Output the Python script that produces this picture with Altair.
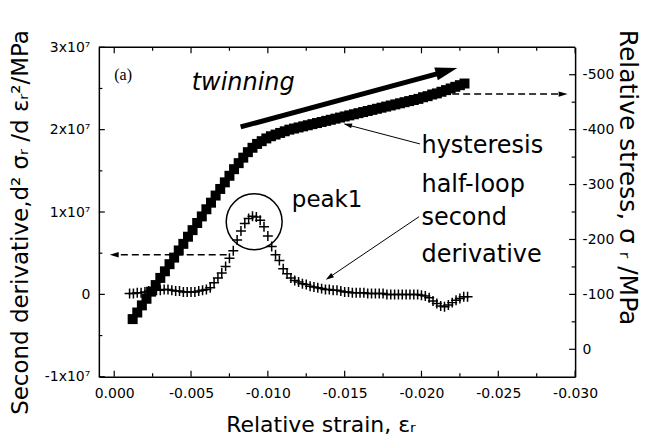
import altair as alt
import pandas as pd

# ---------------- data ----------------
# second derivative (left axis, units of 1e7 MPa)
deriv_strain = [-0.00100, -0.00125, -0.00150, -0.00175, -0.00200, -0.00225, -0.00250, -0.00275, -0.00300, -0.00325,
                -0.00350, -0.00375, -0.00400, -0.00425, -0.00450, -0.00475, -0.00500, -0.00525, -0.00550, -0.00575,
                -0.00600, -0.00625, -0.00650, -0.00675, -0.00700, -0.00725, -0.00750, -0.00775, -0.00800, -0.00825,
                -0.00850, -0.00875, -0.00900, -0.00925, -0.00950, -0.00975, -0.01000, -0.01025, -0.01050, -0.01075,
                -0.01100, -0.01125, -0.01150, -0.01175, -0.01200, -0.01225, -0.01250, -0.01275, -0.01300, -0.01325,
                -0.01350, -0.01375, -0.01400, -0.01425, -0.01450, -0.01475, -0.01500, -0.01525, -0.01550, -0.01575,
                -0.01600, -0.01625, -0.01650, -0.01675, -0.01700, -0.01725, -0.01750, -0.01775, -0.01800, -0.01825,
                -0.01850, -0.01875, -0.01900, -0.01925, -0.01950, -0.01975, -0.02000, -0.02025, -0.02050, -0.02075,
                -0.02100, -0.02125, -0.02150, -0.02175, -0.02200, -0.02225, -0.02250, -0.02275, -0.02300]
deriv_value = [0.01, 0.01, 0.02, 0.02, 0.03, 0.04, 0.05, 0.05, 0.05, 0.06,
               0.06, 0.05, 0.04, 0.04, 0.03, 0.03, 0.03, 0.03, 0.04, 0.05,
               0.06, 0.08, 0.14, 0.20, 0.26, 0.34, 0.44, 0.53, 0.66, 0.77,
               0.86, 0.92, 0.95, 0.94, 0.90, 0.82, 0.71, 0.58, 0.48, 0.41,
               0.31, 0.25, 0.20, 0.17, 0.15, 0.13, 0.12, 0.10, 0.09, 0.08,
               0.07, 0.06, 0.06, 0.05, 0.05, 0.04, 0.03, 0.03, 0.02, 0.02,
               0.02, 0.02, 0.01, 0.01, 0.01, 0.01, 0.01, 0.00, 0.00, 0.00,
               0.00, 0.00, 0.00, 0.00, 0.00, 0.00, -0.01, -0.02, -0.04, -0.08,
               -0.11, -0.14, -0.15, -0.13, -0.10, -0.07, -0.05, -0.03, -0.03]

# hysteresis half-loop (right axis, MPa)
hyst_strain = [-0.0012, -0.0015, -0.0018, -0.0021, -0.0024, -0.0027, -0.0030, -0.0033, -0.0036, -0.0039,
               -0.0042, -0.0045, -0.0048, -0.0051, -0.0054, -0.0057, -0.0060, -0.0063, -0.0066, -0.0069,
               -0.0072, -0.0075, -0.0078, -0.0081, -0.0084, -0.0087, -0.0090, -0.0093, -0.0096, -0.0099,
               -0.0102, -0.0105, -0.0108, -0.0111, -0.0114, -0.0117, -0.0120, -0.0123, -0.0126, -0.0129,
               -0.0132, -0.0135, -0.0138, -0.0141, -0.0144, -0.0147, -0.0150, -0.0153, -0.0156, -0.0159,
               -0.0162, -0.0165, -0.0168, -0.0171, -0.0174, -0.0177, -0.0180, -0.0183, -0.0186, -0.0189,
               -0.0192, -0.0195, -0.0198, -0.0201, -0.0204, -0.0207, -0.0210, -0.0213, -0.0216, -0.0219,
               -0.0222, -0.0225, -0.0228]
hyst_stress = [-55, -67, -80, -92, -105, -117, -130, -142, -155, -167,
               -180, -192, -205, -217, -230, -242, -255, -267, -280, -292,
               -304, -316, -328, -339, -349, -359, -367, -374, -379, -384,
               -388, -391, -394, -397, -400, -402, -404, -406, -408, -410,
               -412, -414, -416, -418, -420, -422, -424, -426, -428, -430,
               -432, -434, -436, -438, -440, -442, -444, -446, -448, -450,
               -452, -454, -456, -459, -461, -464, -466, -469, -472, -475,
               -478, -481, -484]

# ticks
x_major = [0.0, -0.005, -0.010, -0.015, -0.020, -0.025, -0.030]
x_minor = [-0.0025, -0.0075, -0.0125, -0.0175, -0.0225, -0.0275]
left_major = [-1, 0, 1, 2, 3]
left_minor = [-0.5, 0.5, 1.5, 2.5]
right_major = [0, -100, -200, -300, -400, -500]
right_minor = [-50, -150, -250, -350, -450]

# annotations (data coordinates)
label_lines = ["hysteresis", "half-loop", "second", "derivative"]
label_strain = [-0.0200, -0.0200, -0.0200, -0.0200]
label_stress = [-358, -286, -226, -159]

W, H = 477, 330
FONT = "DejaVu Sans"

xs = alt.Scale(domain=[-0.030, 0.001], reverse=True, nice=False, zero=False)
ysl = alt.Scale(domain=[-1, 3], nice=False, zero=False)
ysr = alt.Scale(domain=[-550, 50], reverse=True, nice=False, zero=False)

ARROW = "M0,-1L-0.6,1L0.6,1Z"
CROSS = "M-1,0L1,0M0,-1L0,1"

common = dict(ticks=False, grid=False, domain=True, domainColor="black", domainWidth=1.5,
              labelFont=FONT, labelFontSize=14, labelColor="black", labelOverlap=False, labelFlush=False,
              titleFont=FONT, titleFontWeight="normal", titleColor="black")

x_axis = alt.Axis(values=x_major, labelExpr="replace(format(datum.value, '.3f'), '\u2212', '-')",
                  labelPadding=10, title="Relative strain, \u03b5\u1d63", titleFontSize=22,
                  titleX=222, titleY=55, titleBaseline="alphabetic", titleAlign="center", **common)
left_axis = alt.Axis(values=left_major, labelExpr="datum.value == 0 ? '0' : datum.value + 'x10\u2077'",
                     labelPadding=9,
                     title="Second derivative,d\u00b2 \u03c3\u1d63 /d \u03b5\u1d63\u00b2/MPa",
                     titleFontSize=23, titleX=-78, titleY=175, titleAngle=270, titleAlign="center",
                     titleBaseline="middle", **common)
right_axis = alt.Axis(orient="right", values=right_major, labelExpr="'' + datum.value",
                      labelPadding=7, title="Relative stress, \u03c3 \u1d63    /MPa", titleFontSize=25,
                      titleX=52, titleY=130, titleAngle=90, titleAlign="center", titleBaseline="middle",
                      **common)

# helper channels for annotation layers (they share the scales; axes come from the main layers)
Xn = lambda f: alt.X(f, type="quantitative", scale=xs)
YL = lambda f: alt.Y(f, type="quantitative", scale=ysl)
YR = lambda f: alt.Y(f, type="quantitative", scale=ysr)

df_d = pd.DataFrame({"strain": deriv_strain, "v": deriv_value})
df_h = pd.DataFrame({"strain": hyst_strain, "s": hyst_stress})

# ---------- left-axis group ----------
crosses = alt.Chart(df_d).mark_point(shape=CROSS, filled=False, stroke="black", strokeWidth=1.5,
                                     size=100, opacity=1).encode(
    x=alt.X("strain:Q", scale=xs, axis=x_axis),
    y=alt.Y("v:Q", scale=ysl, axis=left_axis))

top_border = alt.Chart(pd.DataFrame({"k": [0]})).mark_rule(color="black", strokeWidth=1.5).encode(
    x=alt.value(0), x2=alt.value(W), y=alt.value(0))

xt_major = pd.DataFrame({"strain": x_major})
xt_minor = pd.DataFrame({"strain": x_minor})
tick_b_maj = alt.Chart(xt_major).mark_rule(color="black", strokeWidth=1.2).encode(
    x=Xn("strain"), y=alt.value(H), y2=alt.value(H - 6))
tick_t_maj = alt.Chart(xt_major).mark_rule(color="black", strokeWidth=1.2).encode(
    x=Xn("strain"), y=alt.value(0), y2=alt.value(6))
tick_b_min = alt.Chart(xt_minor).mark_rule(color="black", strokeWidth=1.2).encode(
    x=Xn("strain"), y=alt.value(H), y2=alt.value(H - 3.5))
tick_t_min = alt.Chart(xt_minor).mark_rule(color="black", strokeWidth=1.2).encode(
    x=Xn("strain"), y=alt.value(0), y2=alt.value(3.5))
tick_l_maj = alt.Chart(pd.DataFrame({"v": left_major})).mark_rule(color="black", strokeWidth=1.2).encode(
    y=YL("v"), x=alt.value(0), x2=alt.value(6))
tick_l_min = alt.Chart(pd.DataFrame({"v": left_minor})).mark_rule(color="black", strokeWidth=1.2).encode(
    y=YL("v"), x=alt.value(0), x2=alt.value(3.5))

circle = alt.Chart(pd.DataFrame({"strain": [-0.00911], "v": [0.882]})).mark_point(
    shape="circle", filled=False, stroke="black", strokeWidth=1.5, size=3136, opacity=1).encode(
    x=Xn("strain"), y=YL("v"))
peak_txt = alt.Chart(pd.DataFrame({"strain": [-0.01156], "v": [1.064], "t": ["peak1"]})).mark_text(
    align="left", baseline="alphabetic", font=FONT, fontSize=23, color="black").encode(
    x=Xn("strain"), y=YL("v"), text="t:N")
a_txt = alt.Chart(pd.DataFrame({"strain": [0.0], "v": [2.604], "t": ["(a)"]})).mark_text(
    align="left", baseline="alphabetic", font="Liberation Serif", fontSize=16, color="black").encode(
    x=Xn("strain"), y=YL("v"), text="t:N")

d_arrow = alt.Chart(pd.DataFrame({"x1": [-0.01984], "x2": [-0.01390], "v1": [0.943], "v2": [0.195]})).mark_rule(
    color="black", strokeWidth=1).encode(x=Xn("x1"), x2="x2", y=YL("v1"), y2="v2")
d_head = alt.Chart(pd.DataFrame({"strain": [-0.01399], "v": [0.206]})).mark_point(
    shape=ARROW, filled=True, color="black", size=70, angle=236, opacity=1).encode(
    x=Xn("strain"), y=YL("v"))

dl_line = alt.Chart(pd.DataFrame({"x1": [-0.00732], "x2": [-0.00028], "v": [0.482]})).mark_rule(
    color="black", strokeWidth=1.5, strokeDash=[7, 4]).encode(x=Xn("x1"), x2="x2", y=YL("v"))
dl_head = alt.Chart(pd.DataFrame({"strain": [0.0], "v": [0.482]})).mark_point(
    shape=ARROW, filled=True, color="black", size=81, angle=270, opacity=1).encode(
    x=Xn("strain"), y=YL("v"))

left_group = alt.layer(crosses, top_border, tick_b_maj, tick_t_maj, tick_b_min, tick_t_min, tick_l_maj,
                       tick_l_min, circle, peak_txt, a_txt, d_arrow, d_head, dl_line, dl_head)

# ---------- right-axis group ----------
squares = alt.Chart(df_h).mark_point(shape="square", filled=True, color="black", size=100, opacity=1).encode(
    x=Xn("strain"), y=alt.Y("s:Q", scale=ysr, axis=right_axis))
tick_r_maj = alt.Chart(pd.DataFrame({"s": right_major})).mark_rule(color="black", strokeWidth=1.2).encode(
    y=YR("s"), x=alt.value(W), x2=alt.value(W - 6))
tick_r_min = alt.Chart(pd.DataFrame({"s": right_minor})).mark_rule(color="black", strokeWidth=1.2).encode(
    y=YR("s"), x=alt.value(W), x2=alt.value(W - 3.5))

tw_line = alt.Chart(pd.DataFrame({"x1": [-0.00823], "x2": [-0.0216], "s1": [-405], "s2": [-506]})).mark_rule(
    color="black", strokeWidth=5).encode(x=Xn("x1"), x2="x2", y=YR("s1"), y2="s2")
tw_head = alt.Chart(pd.DataFrame({"strain": [-0.02164], "s": [-507]})).mark_point(
    shape=ARROW, filled=True, color="black", size=484, angle=74.5, opacity=1).encode(
    x=Xn("strain"), y=YR("s"))
tw_txt = alt.Chart(pd.DataFrame({"strain": [-0.00504], "s": [-472], "t": ["twinning"]})).mark_text(
    align="left", baseline="alphabetic", font=FONT, fontSize=24, fontStyle="italic", color="black").encode(
    x=Xn("strain"), y=YR("s"), text="t:N")

lab_txt = alt.Chart(pd.DataFrame({"strain": label_strain, "s": label_stress, "t": label_lines})).mark_text(
    align="left", baseline="alphabetic", font=FONT, fontSize=24, color="black").encode(
    x=Xn("strain"), y=YR("s"), text="t:N")

h_arrow = alt.Chart(pd.DataFrame({"x1": [-0.0199], "x2": [-0.0150], "s1": [-374], "s2": [-410]})).mark_rule(
    color="black", strokeWidth=1).encode(x=Xn("x1"), x2="x2", y=YR("s1"), y2="s2")
h_head = alt.Chart(pd.DataFrame({"strain": [-0.0152], "s": [-408.7]})).mark_point(
    shape=ARROW, filled=True, color="black", size=70, angle=284.7, opacity=1).encode(
    x=Xn("strain"), y=YR("s"))

dr_line = alt.Chart(pd.DataFrame({"x1": [-0.0220], "x2": [-0.0290], "s": [-464.7]})).mark_rule(
    color="black", strokeWidth=1.5, strokeDash=[7, 4]).encode(x=Xn("x1"), x2="x2", y=YR("s"))
dr_head = alt.Chart(pd.DataFrame({"strain": [-0.02922], "s": [-464.7]})).mark_point(
    shape=ARROW, filled=True, color="black", size=81, angle=90, opacity=1).encode(
    x=Xn("strain"), y=YR("s"))

right_group = alt.layer(squares, tick_r_maj, tick_r_min, tw_line, tw_head, tw_txt, lab_txt,
                        h_arrow, h_head, dr_line, dr_head)

chart = alt.layer(left_group, right_group).resolve_scale(y="independent").properties(
    width=W, height=H, autosize="none",
    padding={"left": 91, "top": 39, "right": 70, "bottom": 60},
).configure(font=FONT, background="white").configure_view(stroke="transparent")

chart.save("out.html", embed_options={"renderer": "svg", "actions": False})
